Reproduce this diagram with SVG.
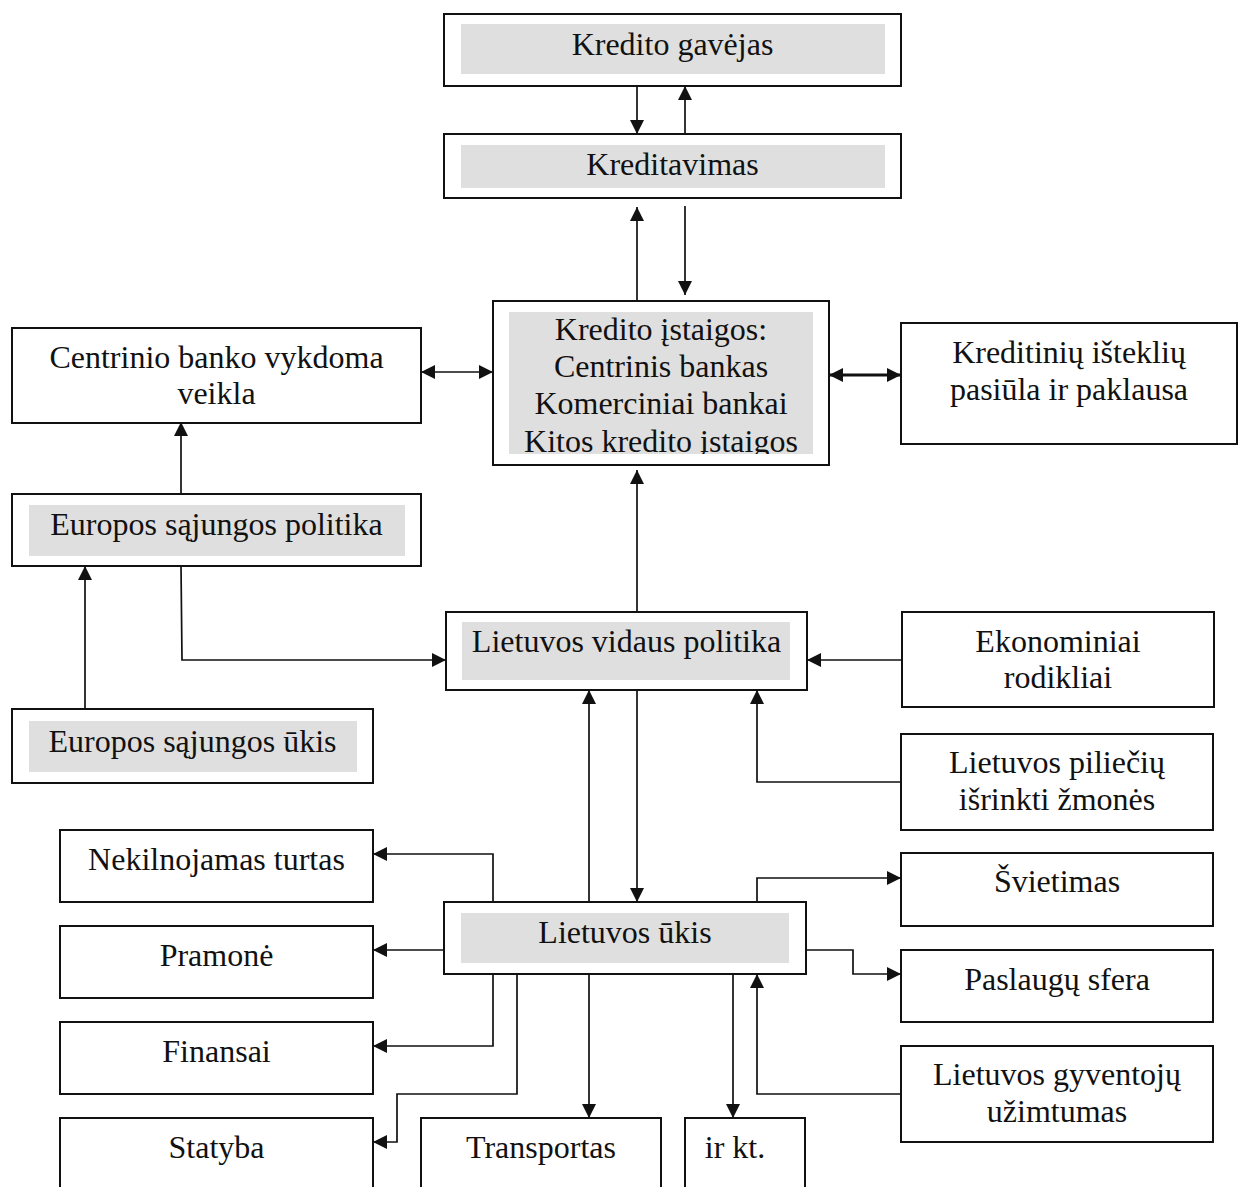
<svg xmlns="http://www.w3.org/2000/svg" width="1243" height="1187" viewBox="0 0 1243 1187">
  <style>
    .box { fill: #ffffff; stroke: #111111; stroke-width: 2; }
    .shade { fill: #dfdfdf; stroke: none; }
    .lbl { font-family: "Liberation Serif", "Times New Roman", serif; font-size: 32px; fill: #111111; text-anchor: middle; }
    .wire { fill: none; stroke: #111111; stroke-width: 1.7; }
    .arr { marker-end: url(#head); }
    .both { marker-start: url(#head); marker-end: url(#head); }
  </style>
  <defs>
    <marker id="head" markerUnits="userSpaceOnUse" markerWidth="15" markerHeight="15" refX="14" refY="7" orient="auto-start-reverse">
      <path d="M0,0 L14,7 L0,14 Z" fill="#111111"/>
    </marker>
    <clipPath id="clipInst">
      <rect x="509" y="312" width="304" height="142"/>
    </clipPath>
  </defs>

  <rect width="1243" height="1187" fill="#ffffff"/>

  <!-- connectors -->
  <g id="connectors">
    <line class="wire arr" x1="637" y1="86" x2="637" y2="134"/>
    <line class="wire arr" x1="685" y1="134" x2="685" y2="86"/>
    <line class="wire arr" x1="637" y1="301" x2="637" y2="207"/>
    <line class="wire arr" x1="685" y1="206" x2="685" y2="295"/>
    <line class="wire both" x1="421" y1="372" x2="493" y2="372"/>
    <line class="wire both" x1="829" y1="375" x2="901" y2="375" style="stroke-width:3"/>
    <line class="wire arr" x1="181" y1="494" x2="181" y2="422"/>
    <line class="wire arr" x1="85" y1="709" x2="85" y2="566"/>
    <path class="wire arr" d="M181,566 L182,660 L446,660"/>
    <line class="wire arr" x1="637" y1="612" x2="637" y2="470"/>
    <line class="wire arr" x1="902" y1="660" x2="807" y2="660"/>
    <path class="wire arr" d="M901,782 L757,782 L757,690"/>
    <line class="wire arr" x1="589" y1="902" x2="589" y2="690"/>
    <line class="wire arr" x1="637" y1="690" x2="637" y2="902"/>
    <path class="wire arr" d="M493,902 L493,854 L373,854"/>
    <line class="wire arr" x1="444" y1="950" x2="373" y2="950"/>
    <path class="wire arr" d="M493,974 L493,1046 L373,1046"/>
    <path class="wire arr" d="M517,974 L517,1094 L397,1094 L397,1142 L373,1142"/>
    <line class="wire arr" x1="589" y1="974" x2="589" y2="1118"/>
    <line class="wire arr" x1="733" y1="974" x2="733" y2="1118"/>
    <path class="wire arr" d="M901,1094 L757,1094 L757,974"/>
    <path class="wire arr" d="M757,902 L757,878 L901,878"/>
    <path class="wire arr" d="M806,950 L853,950 L853,974 L901,974"/>
  </g>

  <!-- nodes -->
  <g id="kredito-gavejas">
    <rect class="box" x="444" y="14" width="457" height="72"/>
    <rect class="shade" x="461" y="24" width="424" height="50"/>
    <text class="lbl" x="672.5" y="55">Kredito gavėjas</text>
  </g>

  <g id="kreditavimas">
    <rect class="box" x="444" y="134" width="457" height="64"/>
    <rect class="shade" x="461" y="145" width="424" height="43"/>
    <text class="lbl" x="672.5" y="175">Kreditavimas</text>
  </g>

  <g id="kredito-istaigos">
    <rect class="box" x="493" y="301" width="336" height="164"/>
    <rect class="shade" x="509" y="312" width="304" height="142"/>
    <g clip-path="url(#clipInst)">
      <text class="lbl" x="661" y="340">Kredito įstaigos:</text>
      <text class="lbl" x="661" y="377">Centrinis bankas</text>
      <text class="lbl" x="661" y="414">Komerciniai bankai</text>
      <text class="lbl" x="661" y="452">Kitos kredito įstaigos</text>
    </g>
  </g>

  <g id="centrinio-banko-veikla">
    <rect class="box" x="12" y="328" width="409" height="95"/>
    <text class="lbl" x="216.5" y="368">Centrinio banko vykdoma</text>
    <text class="lbl" x="216.5" y="404">veikla</text>
  </g>

  <g id="kreditiniu-istekliu">
    <rect class="box" x="901" y="323" width="336" height="121"/>
    <text class="lbl" x="1069" y="363">Kreditinių išteklių</text>
    <text class="lbl" x="1069" y="400">pasiūla ir paklausa</text>
  </g>

  <g id="es-politika">
    <rect class="box" x="12" y="494" width="409" height="72"/>
    <rect class="shade" x="29" y="505" width="376" height="51"/>
    <text class="lbl" x="216.5" y="535">Europos sąjungos politika</text>
  </g>

  <g id="lietuvos-vidaus-politika">
    <rect class="box" x="446" y="612" width="361" height="78"/>
    <rect class="shade" x="462" y="622" width="328" height="58"/>
    <text class="lbl" x="626.5" y="652">Lietuvos vidaus politika</text>
  </g>

  <g id="ekonominiai-rodikliai">
    <rect class="box" x="902" y="612" width="312" height="95"/>
    <text class="lbl" x="1058" y="652">Ekonominiai</text>
    <text class="lbl" x="1058" y="688">rodikliai</text>
  </g>

  <g id="es-ukis">
    <rect class="box" x="12" y="709" width="361" height="74"/>
    <rect class="shade" x="29" y="721" width="328" height="51"/>
    <text class="lbl" x="192.5" y="752">Europos sąjungos ūkis</text>
  </g>

  <g id="pilieciu-isrinkti">
    <rect class="box" x="901" y="734" width="312" height="96"/>
    <text class="lbl" x="1057" y="773">Lietuvos piliečių</text>
    <text class="lbl" x="1057" y="810">išrinkti žmonės</text>
  </g>

  <g id="nekilnojamas-turtas">
    <rect class="box" x="60" y="830" width="313" height="72"/>
    <text class="lbl" x="216.5" y="870">Nekilnojamas turtas</text>
  </g>

  <g id="svietimas">
    <rect class="box" x="901" y="853" width="312" height="73"/>
    <text class="lbl" x="1057" y="892">Švietimas</text>
  </g>

  <g id="lietuvos-ukis">
    <rect class="box" x="444" y="902" width="362" height="72"/>
    <rect class="shade" x="461" y="913" width="328" height="50"/>
    <text class="lbl" x="625" y="943">Lietuvos ūkis</text>
  </g>

  <g id="pramone">
    <rect class="box" x="60" y="926" width="313" height="72"/>
    <text class="lbl" x="216.5" y="966">Pramonė</text>
  </g>

  <g id="paslaugu-sfera">
    <rect class="box" x="901" y="950" width="312" height="72"/>
    <text class="lbl" x="1057" y="990">Paslaugų sfera</text>
  </g>

  <g id="finansai">
    <rect class="box" x="60" y="1022" width="313" height="72"/>
    <text class="lbl" x="216.5" y="1062">Finansai</text>
  </g>

  <g id="gyventoju-uzimtumas">
    <rect class="box" x="901" y="1046" width="312" height="96"/>
    <text class="lbl" x="1057" y="1085">Lietuvos gyventojų</text>
    <text class="lbl" x="1057" y="1122">užimtumas</text>
  </g>

  <g id="statyba">
    <rect class="box" x="60" y="1118" width="313" height="100"/>
    <text class="lbl" x="216.5" y="1158">Statyba</text>
  </g>

  <g id="transportas">
    <rect class="box" x="421" y="1118" width="240" height="100"/>
    <text class="lbl" x="541" y="1158">Transportas</text>
  </g>

  <g id="ir-kt">
    <rect class="box" x="685" y="1118" width="120" height="100"/>
    <text class="lbl" x="735" y="1158">ir kt.</text>
  </g>
</svg>
